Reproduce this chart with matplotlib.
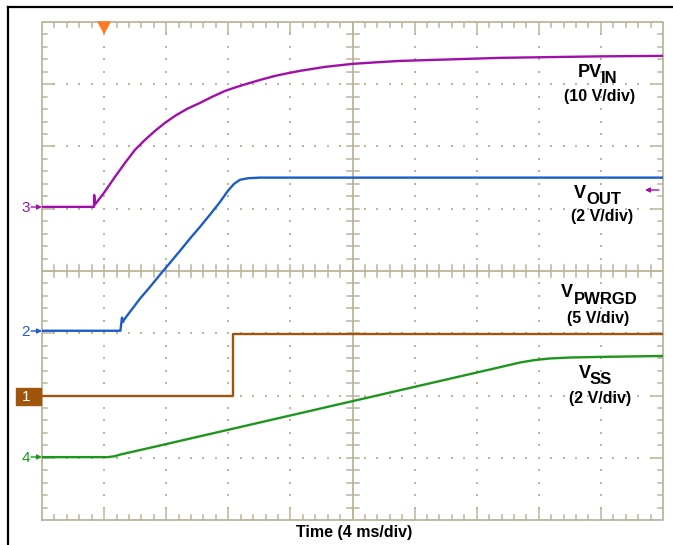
import numpy as np
import matplotlib
matplotlib.use("Agg")
import matplotlib.pyplot as plt
from matplotlib.lines import Line2D
from matplotlib.patches import Polygon, Rectangle

plt.rcParams["font.family"] = ["Liberation Sans", "DejaVu Sans"]

# ---- scope traces: time in ms, voltage in V ----
pvin_t = [0, 3.35, 3.36, 3.42, 3.99, 4.70, 5.35, 5.99, 6.63, 7.28, 7.92,
          8.57, 9.34, 10.18, 10.95, 11.79, 12.56, 13.40, 14.17, 15.01,
          15.78, 16.62, 18.23, 19.97, 21.45, 23.06, 26.28, 29.50, 32.72,
          35.94, 40.0]
pvin_v = [0, 0, 1.9, 0.4, 2.25, 4.82, 7.07, 9.16, 10.76, 12.21, 13.49,
          14.62, 15.74, 16.71, 17.67, 18.63, 19.28, 19.92, 20.48, 21.04,
          21.45, 21.85, 22.49, 22.97, 23.21, 23.45, 23.69, 23.94, 24.06,
          24.18, 24.26]

vout_t = [0, 5.05, 5.15, 5.22, 5.28, 5.67, 6.31, 6.96, 7.60, 8.24, 8.89,
          9.53, 10.18, 10.82, 11.47, 11.98, 12.37, 12.75, 13.27, 14.04, 40.0]
vout_v = [0, 0, 0.42, 0.28, 0.35, 0.61, 1.03, 1.41, 1.80, 2.18, 2.57,
          2.96, 3.34, 3.73, 4.14, 4.50, 4.72, 4.85, 4.90, 4.92, 4.92]

pwrgd_t = [0, 12.3, 12.3, 40.0]
pwrgd_v = [0, 0, 5.0, 5.0]

vss_t = [0, 4.25, 4.70, 5.02, 6.96, 10.18, 13.40, 16.62, 19.84, 23.06,
         26.28, 29.50, 30.79, 31.75, 32.72, 34.01, 35.94, 40.0]
vss_v = [0, 0, 0.03, 0.08, 0.30, 0.67, 1.04, 1.41, 1.78, 2.15,
         2.52, 2.89, 3.04, 3.12, 3.17, 3.20, 3.22, 3.25]

# channel settings: volts/div and ground offset (divisions from bottom)
scales = {"pvin": 10.0, "vout": 2.0, "pwrgd": 5.0, "vss": 2.0}
offsets = {"pvin": 5.03, "vout": 3.04, "pwrgd": 1.99, "vss": 1.01}

W, H = 673, 545
GRID = "#bcb59b"
C_PVIN = "#a010a8"
C_VOUT = "#1c5cc8"
C_PWRGD = "#a0540c"
C_VSS = "#1e961e"


def fpx(x, y):
    """pixel position (from top-left) -> figure fraction"""
    return x / W, 1 - y / H


def main():
    fig = plt.figure(figsize=(W / 100, H / 100), dpi=100)
    ax = fig.add_axes([42 / W, 25 / H, 621 / W, 498 / H])
    ax.set_xlim(0, 40)
    ax.set_ylim(0, 8)
    ax.axis("off")

    pxx = 621 / 40.0   # pixels per ms
    pxy = 498 / 8.0    # pixels per div

    # ---- graticule ----
    ax.plot([0, 40, 40, 0, 0], [0, 0, 8, 8, 0], color=GRID, lw=1.3,
            clip_on=False, zorder=1)
    xs_min = np.arange(0.8, 40, 0.8)
    ys_min = np.arange(0.2, 8, 0.2)
    for x in xs_min:
        major = abs(x / 4 - round(x / 4)) < 1e-6
        L = (12 if major else 5) / pxy
        ax.plot([x, x], [0, L], color=GRID, lw=1.1, zorder=1)
        ax.plot([x, x], [8, 8 - L], color=GRID, lw=1.1, zorder=1)
        ax.plot([x, x], [4 - 6 / pxy, 4 + 6 / pxy], color=GRID, lw=1.1, zorder=1)
    for y in ys_min:
        major = abs(y - round(y)) < 1e-6
        L = (12 if major else 5) / pxx
        ax.plot([0, L], [y, y], color=GRID, lw=1.1, zorder=1)
        ax.plot([40, 40 - L], [y, y], color=GRID, lw=1.1, zorder=1)
        ax.plot([20 - 6 / pxx, 20 + 6 / pxx], [y, y], color=GRID, lw=1.1, zorder=1)
    ax.plot([20, 20], [0, 8], color=GRID, lw=1.3, zorder=1)
    ax.plot([0, 40], [4, 4], color=GRID, lw=1.3, zorder=1)

    # dotted division lines
    dx, dy = [], []
    for xd in [4, 8, 12, 16, 24, 28, 32, 36]:
        dx += [xd] * len(ys_min)
        dy += list(ys_min)
    for yd in [1, 2, 3, 5, 6, 7]:
        dx += list(xs_min)
        dy += [yd] * len(xs_min)
    ax.scatter(dx, dy, s=2.2, marker="s", color=GRID, linewidths=0, zorder=1)

    # ---- traces ----
    for t, v, key, c in [(pvin_t, pvin_v, "pvin", C_PVIN),
                         (vout_t, vout_v, "vout", C_VOUT),
                         (pwrgd_t, pwrgd_v, "pwrgd", C_PWRGD),
                         (vss_t, vss_v, "vss", C_VSS)]:
        y = offsets[key] + np.asarray(v) / scales[key]
        ax.plot(t, y, color=c, lw=1.7, solid_joinstyle="round", zorder=3)

    # trigger marker
    ax.add_patch(Polygon([(4 - 6 / pxx, 8), (4 + 6 / pxx, 8), (4, 8 - 11 / pxy)],
                         closed=True, color="#ff7a22", clip_on=False, zorder=4))

    # ---- outer black border ----
    fig.add_artist(Line2D([8 / W, 8 / W], [0, 1 - 7 / H],
                          transform=fig.transFigure, color="black", lw=1.6))
    fig.add_artist(Line2D([8 / W, 1], [1 - 7 / H, 1 - 7 / H],
                          transform=fig.transFigure, color="black", lw=1.6))

    # ---- channel ground markers ----
    def arrow(x0, x1, y, c):
        ax.annotate("", xy=fpx(x1, y), xytext=fpx(x0, y),
                    xycoords="figure fraction", textcoords="figure fraction",
                    arrowprops=dict(arrowstyle="-|>", color=c, lw=1.0,
                                    mutation_scale=7, shrinkA=0, shrinkB=0))

    for num, ypx, c in [("3", 207, C_PVIN), ("2", 331, C_VOUT), ("4", 457, C_VSS)]:
        fig.text(*fpx(26, ypx + 1), num, color=c, fontsize=11,
                 ha="center", va="center")
        arrow(31, 42, ypx, c)
    fig.add_artist(Rectangle(fpx(16, 405), 25 / W, 17 / H,
                             transform=fig.transFigure, color=C_PWRGD))
    fig.text(*fpx(26, 397), "1", color="white", fontsize=11,
             ha="center", va="center")
    arrow(31, 41, 396, "white")
    arrow(659, 645, 190, C_PVIN)

    # ---- channel labels ----
    def label(x, base, main, sub, xsub, subbase, xs, scale_txt, ys):
        fig.text(*fpx(x, base), main, fontsize=13, fontweight="bold",
                 ha="left", va="baseline")
        fig.text(*fpx(xsub, subbase), sub, fontsize=12, fontweight="bold",
                 ha="left", va="baseline")
        fig.text(*fpx(xs, ys), scale_txt, fontsize=11.5, fontweight="bold",
                 ha="center", va="center")

    label(578, 77, "PV", "IN", 601, 83, 600, "(10 V/div)", 97)
    label(574, 198, "V", "OUT", 586, 204, 602, "(2 V/div)", 216)
    label(561, 297, "V", "PWRGD", 574, 304, 598, "(5 V/div)", 318)
    label(579, 378, "V", "SS", 590, 384, 600, "(2 V/div)", 398)

    fig.text(*fpx(354, 532), "Time (4 ms/div)", fontsize=11.5,
             fontweight="bold", ha="center", va="center")

    fig.savefig("out.png", dpi=100)
    plt.close(fig)


if __name__ == "__main__":
    main()
